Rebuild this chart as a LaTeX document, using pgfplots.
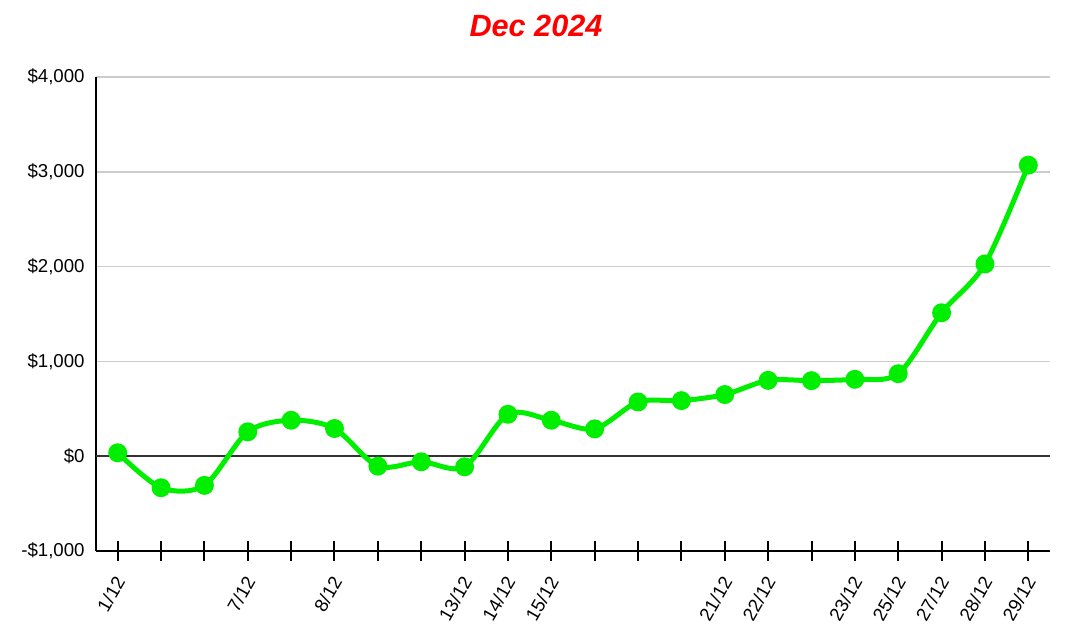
\documentclass[border=0pt]{standalone}
\usepackage{pgfplots}
\pgfplotsset{compat=1.18}
\usepackage{fontspec}
\setmainfont{Liberation Sans}
\definecolor{lgreen}{RGB}{0,238,0}
\definecolor{gridgray}{RGB}{204,204,204}
\begin{document}
\begin{tikzpicture}[x=1pt,y=1pt]
\begin{axis}[
  at={(72pt,67.5pt)}, anchor=south west,
  scale only axis,
  width=715.5pt, height=355.5pt,
  xmin=-0.5, xmax=21.5,
  ymin=-1000, ymax=4000,
  axis x line=bottom, axis y line=left,
  axis line style={-, line width=1.5pt, black},
  xtick={0,...,21},
  xticklabels={1/12,,,7/12,,8/12,,,13/12,14/12,15/12,,,,21/12,22/12,,23/12,25/12,27/12,28/12,29/12},
  xtick style={line width=1.5pt, black},
  tick align=center,
  major tick length=15pt,
  xticklabel style={rotate=60, anchor=east, font=\fontsize{14}{16}\selectfont, yshift=-8.2pt, xshift=-7pt},
  ytick={-1000,0,1000,2000,3000,4000},
  yticklabels={{-\$1,000},{\$0},{\$1,000},{\$2,000},{\$3,000},{\$4,000}},
  ytick style={draw=none},
  yticklabel style={font=\fontsize{14}{16}\selectfont, xshift=2.5pt},
  ymajorgrids,
  grid style={gridgray, line width=1.2pt},
  clip=false,
]
\draw[line width=1.5pt, black!80] (axis cs:-0.5,0) -- (axis cs:21.5,0);
\addplot[lgreen, line width=3.75pt, smooth, tension=0.5, mark=*, mark size=5.2pt, mark options={solid, fill=lgreen, draw=none}] coordinates {
(0,36) (1,-333) (2,-308) (3,257) (4,379) (5,292) (6,-105) (7,-59) (8,-112) (9,442) (10,379) (11,288) (12,572) (13,586) (14,650) (15,800) (16,797) (17,811) (18,870) (19,1513) (20,2028) (21,3070)
};
\end{axis}
\node[text=red, font=\fontsize{23}{26}\selectfont\bfseries\itshape] at (402pt,461pt) {Dec 2024};
\pgfresetboundingbox
\path[use as bounding box] (0,0) rectangle (807pt,480.75pt);
\end{tikzpicture}
\end{document}
